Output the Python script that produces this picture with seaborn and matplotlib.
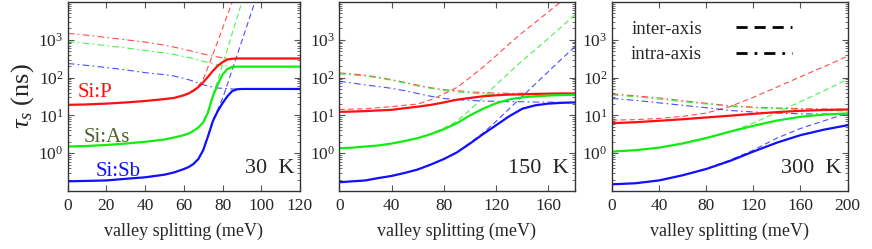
import numpy as np
import pandas as pd
import seaborn as sns
import matplotlib
matplotlib.use("Agg")
import matplotlib.pyplot as plt
from matplotlib.ticker import LogLocator, FixedLocator, NullFormatter

# ---------------- data ----------------
# 30 K
x30 = [0, 10, 20, 30, 40, 50, 55, 60, 62.5, 65, 67.5, 70, 72.5, 75, 77.5, 80,
       82.5, 85, 87.5, 90, 100, 110, 120]
p30_tot = [19, 19.5, 20.5, 22, 24, 27, 29, 34, 38, 45, 56, 75, 105, 150, 205, 255,
           300, 315, 320, 320, 320, 320, 320]
p30_inter = [19, 19.5, 20.5, 22, 24, 27, 29, 35, 39, 47, 60, 90, 190, 410, 910, 2000,
             4500, 10000, 22000, 50000, 1e6, 1e7, 1e8]
p30_intra = [1480, 1320, 1150, 1000, 870, 720, 640, 560, 525, 490, 455, 420, 395, 370,
             350, 335, 325, 320, 320, 320, 320, 320, 320]
as30_tot = [1.5, 1.55, 1.65, 1.8, 2.0, 2.3, 2.6, 3.0, 3.3, 3.9, 4.8, 6.5, 12, 32, 65, 120,
            170, 190, 195, 195, 195, 195, 195]
as30_inter = [1.5, 1.55, 1.65, 1.8, 2.0, 2.3, 2.6, 3.0, 3.3, 3.9, 4.8, 6.7, 13, 35, 83, 220,
              560, 1500, 3800, 10000, 4e5, 1e7, 1e8]
as30_intra = [890, 800, 700, 610, 520, 450, 410, 360, 340, 315, 290, 270, 250, 235, 220,
              210, 203, 198, 195, 195, 195, 195, 195]
sb30_tot = [0.18, 0.185, 0.19, 0.21, 0.23, 0.27, 0.31, 0.38, 0.43, 0.52, 0.7, 1.2, 2.8, 7,
            13, 21, 32, 44, 49, 50, 50, 50, 50]
sb30_inter = [0.18, 0.185, 0.19, 0.21, 0.23, 0.27, 0.31, 0.38, 0.43, 0.52, 0.7, 1.2, 2.9,
              7.5, 14, 28, 66, 160, 390, 940, 32000, 1e6, 1e7]
sb30_intra = [236, 210, 185, 160, 135, 120, 110, 95, 88, 80, 72, 65, 60, 56, 53, 52, 51,
              50, 50, 50, 50, 50, 50]

# 150 K
x150 = [0, 10, 20, 30, 40, 50, 60, 70, 80, 90, 100, 110, 120, 130, 140, 150, 160, 170, 180]
p150_tot = [12.4, 12.6, 13, 13.5, 14, 15.5, 17, 19, 22, 26, 29, 32, 34, 35.5, 36, 37, 37.5, 38, 38]
p150_inter = [14.4, 14.6, 15, 16, 17, 18.5, 20, 26, 37, 55, 100, 190, 380, 780, 1550, 2900, 5500, 10500, 20000]
p150_intra = [133, 125, 115, 102, 88, 75, 63, 54, 48, 45, 42, 40, 39, 38.5, 38.5, 38, 38, 38, 38]
as150_tot = [1.35, 1.4, 1.5, 1.6, 1.8, 2.1, 2.5, 3.2, 4.3, 6.2, 10, 15, 21, 26.5, 30, 32, 33.5, 34.5, 35]
as150_inter = [1.35, 1.4, 1.5, 1.6, 1.8, 2.1, 2.5, 3.2, 4.6, 7, 14, 30, 65, 135, 280, 550, 1100, 2200, 4500]
as150_intra = [125, 118, 110, 98, 85, 72, 60, 52, 45, 42, 39, 37, 36, 35.5, 35, 35, 35, 35, 35]
sb150_tot = [0.17, 0.18, 0.19, 0.22, 0.25, 0.3, 0.37, 0.5, 0.7, 1.05, 1.8, 3.2, 5.5, 9.5, 15, 18.5, 20.5, 21.5, 22]
sb150_inter = [0.17, 0.18, 0.19, 0.22, 0.25, 0.3, 0.37, 0.5, 0.7, 1.05, 1.9, 3.4, 7, 15, 32, 68, 145, 310, 650]
sb150_intra = [80, 72, 64, 58, 52, 45, 38, 32, 28, 26, 25, 24, 23.5, 23, 23, 22.5, 22.5, 22, 22]

# 300 K
x300 = [0, 20, 40, 60, 80, 100, 120, 140, 160, 180, 200]
p300_tot = [6.2, 6.6, 7.2, 7.9, 8.8, 9.8, 11, 12.2, 13.2, 13.9, 14.3]
p300_inter = [7.5, 7.7, 8.3, 9.4, 11.5, 17, 30, 56, 105, 195, 370]
p300_intra = [37, 33, 29, 24.5, 21, 18, 16.5, 15.7, 15.2, 14.8, 14.5]
as300_tot = [1.1, 1.2, 1.4, 1.8, 2.5, 3.7, 5.3, 7.3, 9.2, 10.5, 11.3]
as300_inter = [1.1, 1.2, 1.4, 1.85, 2.6, 3.6, 6.3, 12, 23, 45, 90]
as300_intra = [35, 31, 27, 23, 20, 17.5, 16, 15, 14.2, 13.5, 13]
sb300_tot = [0.15, 0.16, 0.19, 0.26, 0.38, 0.62, 1.1, 1.9, 3.0, 4.2, 5.5]
sb300_inter = [0.15, 0.16, 0.19, 0.26, 0.39, 0.65, 1.2, 2.5, 4.5, 7.2, 11.5]
sb300_intra = [28, 25, 21.5, 18.5, 16, 13.5, 12.3, 11.5, 11, 10.8, 10.8]

temps = ["30  K", "150  K", "300  K"]
xmax = [120, 180, 200]
xticks = [[0, 20, 40, 60, 80, 100, 120], [0, 40, 80, 120, 160], [0, 40, 80, 120, 160, 200]]
donors = ["Si:P", "Si:As", "Si:Sb"]
colors = {"Si:P": "#ff1010", "Si:As": "#10ee10", "Si:Sb": "#1010ff"}
label_colors = {"Si:P": "#ff1010", "Si:As": "#4f6228", "Si:Sb": "#1010ff"}

panels = [
    (x30, {"Si:P": (p30_tot, p30_inter, p30_intra),
           "Si:As": (as30_tot, as30_inter, as30_intra),
           "Si:Sb": (sb30_tot, sb30_inter, sb30_intra)}),
    (x150, {"Si:P": (p150_tot, p150_inter, p150_intra),
            "Si:As": (as150_tot, as150_inter, as150_intra),
            "Si:Sb": (sb150_tot, sb150_inter, sb150_intra)}),
    (x300, {"Si:P": (p300_tot, p300_inter, p300_intra),
            "Si:As": (as300_tot, as300_inter, as300_intra),
            "Si:Sb": (sb300_tot, sb300_inter, sb300_intra)}),
]

# ---------------- style ----------------
sns.set_style("ticks")
plt.rcParams["font.family"] = ["Liberation Serif", "DejaVu Serif"]
plt.rcParams["mathtext.fontset"] = "custom"
plt.rcParams["mathtext.rm"] = "Liberation Serif"
plt.rcParams["mathtext.it"] = "Liberation Serif:italic"
plt.rcParams["axes.edgecolor"] = "#333333"
plt.rcParams["axes.linewidth"] = 1.0

fig = plt.figure(figsize=(8.72, 2.49), dpi=100)
lefts = [0.0776, 0.389, 0.7015]
widths = [0.2664, 0.270, 0.2706]

dash_inter = (0, (5, 3))
dash_intra = (0, (6, 3, 1.5, 3))

for i, (xs, series) in enumerate(panels):
    ax = fig.add_axes([lefts[i], 0.233, widths[i], 0.759])
    for d in donors:
        tot, inter, intra = series[d]
        sns.lineplot(x=xs, y=inter, ax=ax, color=colors[d], lw=0.8, alpha=0.75,
                     linestyle=dash_inter, estimator=None, sort=False)
        sns.lineplot(x=xs, y=intra, ax=ax, color=colors[d], lw=0.8, alpha=0.75,
                     linestyle=dash_intra, estimator=None, sort=False)
    for d in donors:
        tot, inter, intra = series[d]
        sns.lineplot(x=xs, y=tot, ax=ax, color=colors[d], lw=1.6,
                     estimator=None, sort=False)

    ax.set_yscale("log")
    ax.set_ylim(0.1, 1e4)
    ax.set_xlim(0, xmax[i])
    ax.yaxis.set_major_locator(FixedLocator([1, 10, 100, 1000]))
    ax.set_yticklabels([r"$10^0$", r"$10^1$", r"$10^2$", r"$10^3$"])
    ax.yaxis.set_minor_locator(LogLocator(base=10, subs=np.arange(2, 10)))
    ax.yaxis.set_minor_formatter(NullFormatter())
    ax.set_xticks(xticks[i])
    ax.tick_params(which="both", direction="in", top=True, right=True, color="#555555")
    ax.tick_params(which="major", length=4, width=0.8, labelsize=12.5, pad=5)
    ax.tick_params(axis="y", which="major", labelsize=12.5, pad=3)
    ax.tick_params(which="minor", length=2, width=0.6)
    ax.set_xlabel("valley splitting (meV)", fontsize=13, labelpad=6)
    ax.set_ylabel("")
    ax.text(0.975, 0.12, temps[i], transform=ax.transAxes, ha="right", va="center",
            fontsize=16)

    if i == 0:
        ax.set_ylabel(r"$\tau_s$ (ns)", fontsize=19, labelpad=2)
        ax.text(0.045, 0.52, "Si:P", color=label_colors["Si:P"], transform=ax.transAxes,
                fontsize=15, va="center")
        ax.text(0.07, 0.285, "Si:As", color=label_colors["Si:As"], transform=ax.transAxes,
                fontsize=15, va="center")
        ax.text(0.12, 0.105, "Si:Sb", color=label_colors["Si:Sb"], transform=ax.transAxes,
                fontsize=15, va="center")
    if i == 2:
        h1, = ax.plot([], [], color="black", lw=2, linestyle=(0, (4, 2.5)))
        h2, = ax.plot([], [], color="black", lw=2, linestyle=(0, (4, 2.5, 1, 2.5)))
        ax.legend([h1, h2], ["inter-axis", "intra-axis"], loc="upper left",
                  frameon=False, fontsize=13.5, handlelength=3.0, handletextpad=1.8,
                  markerfirst=False, labelspacing=0.45, borderaxespad=0.25,
                  bbox_to_anchor=(0.03, 0.965))

fig.savefig("out.png", dpi=100)
